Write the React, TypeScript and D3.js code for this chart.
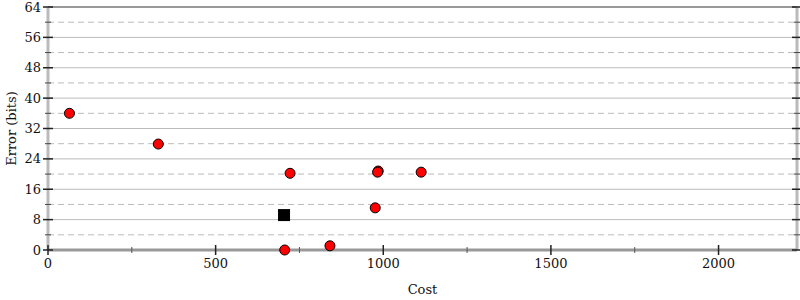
import React from "react";
import * as d3 from "d3";

const costs = [64, 329, 722, 985, 983, 1113, 976, 841, 706];
const errors = [36.0, 27.9, 20.2, 20.8, 20.5, 20.5, 11.1, 1.1, 0];
const bestCost = [704];
const bestError = [9.2];
const yMajor = [0, 8, 16, 24, 32, 40, 48, 56, 64];
const yMinor = [4, 12, 20, 28, 36, 44, 52, 60];
const xMajor = [0, 500, 1000, 1500, 2000];
const xMinor = [250, 750, 1250, 1750];

const W = 800, H = 300;
const L = 48, R = 797, T = 7, B = 250;
const FONT = "DejaVu Serif";

export default function App() {
  const x = d3.scaleLinear().domain([0, 2234]).range([L, R]);
  const y = d3.scaleLinear().domain([0, 64]).range([B, T]);
  return (
    <svg width={W} height={H} style={{ position: "absolute", left: 0, top: 0 }} fontFamily={FONT}>
      <rect width={W} height={H} fill="white" />
      {yMinor.map((v) => (
        <line key={"gm" + v} x1={L} x2={R} y1={y(v)} y2={y(v)} stroke="#bbb" strokeDasharray="6,4" />
      ))}
      {yMajor.map((v) => (
        <line key={"gM" + v} x1={L} x2={R} y1={y(v)} y2={y(v)} stroke="#bbb" />
      ))}
      <line x1={L} x2={R} y1={T} y2={T} stroke="#999" strokeWidth={2} />
      <line x1={L} x2={L} y1={T} y2={B} stroke="#bbb" strokeWidth={3} />
      <line x1={R} x2={R} y1={T} y2={B} stroke="#bbb" strokeWidth={3} />
      <line x1={L} x2={R} y1={B} y2={B} stroke="#999" strokeWidth={3} />
      {yMajor.map((v) => (
        <g key={"yt" + v}>
          <line x1={L - 5} x2={L + 5} y1={y(v)} y2={y(v)} stroke="#222" strokeWidth={1.5} />
          <line x1={R - 5} x2={R + 3} y1={y(v)} y2={y(v)} stroke="#222" strokeWidth={1.5} />
          <text x={L - 7} y={y(v)} dy="0.35em" textAnchor="end" fontSize={13} fill="#111">{v}</text>
        </g>
      ))}
      {yMinor.map((v) => (
        <g key={"ytm" + v}>
          <line x1={L - 3} x2={L + 3} y1={y(v)} y2={y(v)} stroke="#444" />
          <line x1={R - 3} x2={R + 3} y1={y(v)} y2={y(v)} stroke="#444" />
        </g>
      ))}
      {xMajor.map((v) => (
        <g key={"xt" + v}>
          <line x1={x(v)} x2={x(v)} y1={B - 5} y2={B + 5} stroke="#222" strokeWidth={1.5} />
          <text x={x(v)} y={B + 18} textAnchor="middle" fontSize={13} fill="#111">{v}</text>
        </g>
      ))}
      {xMinor.map((v) => (
        <line key={"xtm" + v} x1={x(v)} x2={x(v)} y1={B - 3} y2={B + 3} stroke="#555" />
      ))}
      <text x={(L + R) / 2} y={294} textAnchor="middle" fontSize={13} fill="#111">Cost</text>
      <text transform={`translate(16,${(T + B) / 2}) rotate(-90)`} textAnchor="middle" fontSize={13} fill="#111">Error (bits)</text>
      {bestCost.map((c, i) => (
        <rect key={"b" + i} x={x(c) - 6} y={y(bestError[i]) - 6} width={12} height={12} fill="black" />
      ))}
      {costs.map((c, i) => (
        <circle key={"p" + i} cx={x(c)} cy={y(errors[i])} r={5} fill="red" stroke="black" strokeWidth={1} />
      ))}
    </svg>
  );
}
